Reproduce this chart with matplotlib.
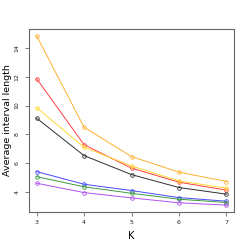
import numpy as np
import matplotlib
matplotlib.use("Agg")
import matplotlib.pyplot as plt

# K values and average interval length per method
k = [3, 4, 5, 6, 7]
orange = [14.85, 8.49, 6.45, 5.37, 4.72]
red = [11.87, 7.28, 5.65, 4.67, 4.12]
yellow = [9.85, 7.10, 5.80, 4.76, 4.26]
black = [9.12, 6.52, 5.20, 4.30, 3.84]
blue = [5.41, 4.53, 4.09, 3.60, 3.35]
green = [5.06, 4.35, 3.90, 3.49, 3.26]
purple = [4.60, 3.95, 3.58, 3.24, 3.08]

series = [
    (orange, "#FFB030"),
    (red, "#FF4040"),
    (yellow, "#FFD830"),
    (black, "#303030"),
    (blue, "#4848FF"),
    (green, "#3C9A3C"),
    (purple, "#B050F0"),
]

fig = plt.figure(figsize=(2.49, 2.49), dpi=100)
ax = fig.add_axes([0.1165, 0.1486, 0.8235, 0.7349])

for vals, col in series:
    ax.plot(k, vals, color=col, lw=0.7, marker="o", ms=2.6,
            mfc="none", mew=0.6)

ax.set_xlim(2.84, 7.16)
ax.set_ylim(2.6, 15.32)
ax.set_xticks([3, 4, 5, 6, 7])
ax.set_yticks([4, 6, 8, 10, 12, 14])

for s in ax.spines.values():
    s.set_color("#666666")
    s.set_linewidth(0.8)

ax.tick_params(length=3, width=0.6, color="#666666", labelsize=4.5,
               pad=3, labelcolor="#222222")
ax.tick_params(axis="y", pad=4)
for lab in ax.get_yticklabels():
    lab.set_rotation(90)
    lab.set_va("center")

ax.set_xlabel("K", fontsize=7, labelpad=4)
ax.set_ylabel("Average interval length", fontsize=6.8, labelpad=2)

fig.savefig("out.png", dpi=100)
